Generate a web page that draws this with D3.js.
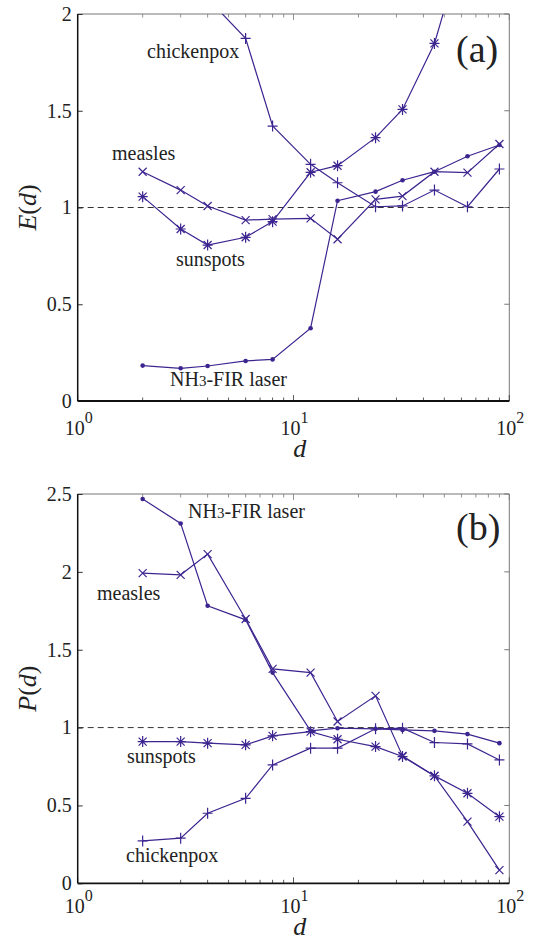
<!DOCTYPE html>
<html>
<head>
<meta charset="utf-8">
<script src="https://cdn.jsdelivr.net/npm/d3@7"></script>
<style>
  body { margin: 0; background: #fff; }
  svg text { font-family: "Liberation Serif", "Times New Roman", Times, "DejaVu Serif", "Noto Serif", serif; fill: #222; }
</style>
</head>
<body>
<div id="chart"></div>
<script>
// embedding dimension d, shared by every series
const dValues = [2, 3, 4, 6, 8, 12, 16, 24, 32, 45, 64, 90];

// panel (a): E(d)
const eNH3 = [0.183, 0.169, 0.181, 0.207, 0.215, 0.376, 1.035, 1.082, 1.141, 1.185, 1.265, 1.323];
const eMeasles = [1.185, 1.090, 1.008, 0.935, 0.940, 0.944, 0.836, 1.042, 1.059, 1.185, 1.180, 1.328];
const eSunspots = [1.056, 0.889, 0.806, 0.846, 0.927, 1.182, 1.216, 1.361, 1.507, 1.848, 2.43, 3.0];
const eChickenpox = [2.6, 2.3, 2.08, 1.874, 1.421, 1.223, 1.128, 1.004, 1.008, 1.090, 1.004, 1.199];

// panel (b): P(d)
const pNH3 = [2.468, 2.311, 1.782, 1.692, 1.353, 0.979, 0.996, 0.992, 0.985, 0.979, 0.958, 0.900];
const pMeasles = [1.992, 1.981, 2.114, 1.697, 1.377, 1.353, 1.039, 1.204, 0.818, 0.690, 0.396, 0.085];
const pSunspots = [0.910, 0.910, 0.900, 0.889, 0.947, 0.974, 0.925, 0.878, 0.814, 0.690, 0.578, 0.428];
const pChickenpox = [0.272, 0.290, 0.450, 0.546, 0.760, 0.868, 0.868, 0.992, 0.996, 0.904, 0.895, 0.792];

const eTicks = [0, 0.5, 1, 1.5, 2];
const pTicks = [0, 0.5, 1, 1.5, 2, 2.5];
const tickText = ["0", "0.5", "1", "1.5", "2", "2.5"];

const W = 536, H = 941;
const left = 77.7, right = 509.3;
const color = "#3d2590";
const serif = '"Liberation Serif", "Times New Roman", Times, "DejaVu Serif", "Noto Serif", serif';

const markers = {
  plus: "M-5,0H5M0,-5.5V5.5",
  cross: "M-4,-4L4,4M-4,4L4,-4",
  star: "M-5,0H5M0,-5.5V5.5M-4,-4L4,4M-4,4L4,-4"
};

const svg = d3.select("#chart").append("svg")
  .attr("width", W)
  .attr("height", H)
  .attr("font-family", serif);

const x = d3.scaleLog().domain([1, 100]).range([left, right]);

function drawPanel(opt) {
  const y = d3.scaleLinear().domain([0, opt.yMax]).range([opt.bottom, opt.top]);
  const g = svg.append("g");
  const clipId = "clip-" + opt.tag;

  g.append("clipPath").attr("id", clipId)
    .append("rect")
    .attr("x", left).attr("y", opt.top)
    .attr("width", right - left).attr("height", opt.bottom - opt.top);

  // frame: top/right light, left/bottom dark
  g.append("line").attr("x1", left).attr("x2", right).attr("y1", opt.top).attr("y2", opt.top)
    .attr("stroke", "#777").attr("stroke-width", 1);
  g.append("line").attr("x1", right).attr("x2", right).attr("y1", opt.top).attr("y2", opt.bottom)
    .attr("stroke", "#777").attr("stroke-width", 1);

  // log ticks on top and bottom
  const xt = x.ticks();
  const major = d => Math.abs(Math.log10(d) - Math.round(Math.log10(d))) < 1e-9;
  g.append("g").selectAll("line").data(xt).join("line")
    .attr("x1", d => x(d)).attr("x2", d => x(d))
    .attr("y1", opt.bottom).attr("y2", d => opt.bottom - (major(d) ? 6 : 3.5))
    .attr("stroke", "#333").attr("stroke-width", 0.8);
  g.append("g").selectAll("line").data(xt).join("line")
    .attr("x1", d => x(d)).attr("x2", d => x(d))
    .attr("y1", opt.top).attr("y2", d => opt.top + (major(d) ? 6 : 3.5))
    .attr("stroke", "#777").attr("stroke-width", 0.8);

  // y axis with inward ticks
  const yAxis = d3.axisLeft(y).tickValues(opt.ticks)
    .tickSize(-5).tickPadding(6)
    .tickFormat((d, i) => tickText[i]);
  const ya = g.append("g").attr("transform", `translate(${left},0)`).call(yAxis)
    .attr("font-family", serif).attr("font-size", 20);
  ya.select(".domain").remove();
  ya.selectAll("line").attr("stroke", "#333");
  ya.selectAll("text").attr("fill", "#222");

  g.append("g").selectAll("line").data(opt.ticks).join("line")
    .attr("x1", right).attr("x2", right - 5)
    .attr("y1", d => y(d)).attr("y2", d => y(d))
    .attr("stroke", "#777");

  g.append("line").attr("x1", left).attr("x2", left).attr("y1", opt.top).attr("y2", opt.bottom)
    .attr("stroke", "#111").attr("stroke-width", 1.5);
  g.append("line").attr("x1", left).attr("x2", right).attr("y1", opt.bottom).attr("y2", opt.bottom)
    .attr("stroke", "#111").attr("stroke-width", 1.8);

  // x tick labels 10^k
  const xl = g.append("g").selectAll("text").data([1, 10, 100]).join("text")
    .attr("x", d => x(d) - 13)
    .attr("y", opt.bottom + opt.labelGap)
    .attr("font-size", 20);
  xl.append("tspan").text("10");
  xl.append("tspan").attr("dy", -12).attr("font-size", 16)
    .text(d => Math.round(Math.log10(d)));

  // x label
  g.append("text")
    .attr("x", x(Math.pow(10, 1.02)) + 2).attr("y", opt.bottom + opt.labelGap + 22)
    .attr("text-anchor", "middle")
    .attr("font-size", 26).attr("font-style", "italic")
    .text("d");

  // y label
  const yl = g.append("text")
    .attr("transform", `translate(36,${(opt.top + opt.bottom) / 2}) rotate(-90)`)
    .attr("text-anchor", "middle")
    .attr("font-size", 26);
  yl.append("tspan").attr("font-style", "italic").text(opt.yName);
  yl.append("tspan").text("(");
  yl.append("tspan").attr("font-style", "italic").text("d");
  yl.append("tspan").text(")");

  // reference line at 1
  g.append("line")
    .attr("x1", left).attr("x2", right).attr("y1", y(1)).attr("y2", y(1))
    .attr("stroke", "#333").attr("stroke-width", 1).attr("stroke-dasharray", "6,4");

  // series
  const plot = g.append("g").attr("clip-path", `url(#${clipId})`);
  const line = d3.line().x(d => x(d.d)).y(d => y(d.v));
  opt.series.forEach(s => {
    const pts = dValues.map((d, i) => ({ d: d, v: s.values[i] }));
    plot.append("path").datum(pts)
      .attr("d", line)
      .attr("fill", "none").attr("stroke", color).attr("stroke-width", 1.2);
    if (s.marker === "dot") {
      plot.append("g").selectAll("circle").data(pts).join("circle")
        .attr("cx", d => x(d.d)).attr("cy", d => y(d.v)).attr("r", 2.3)
        .attr("fill", color);
    } else {
      plot.append("g").selectAll("path").data(pts).join("path")
        .attr("transform", d => `translate(${x(d.d)},${y(d.v)})`)
        .attr("d", markers[s.marker])
        .attr("fill", "none").attr("stroke", color).attr("stroke-width", 1.2);
    }
  });

  // panel letter
  g.append("text").attr("x", 456).attr("y", opt.top + opt.letterDy)
    .attr("font-size", 38).text(opt.letter);

  // series annotations
  opt.notes.forEach(n => {
    const t = g.append("text").attr("x", n.x).attr("y", n.y).attr("font-size", 20);
    if (n.text === "NH3-FIR laser") {
      t.append("tspan").text("NH");
      t.append("tspan").attr("font-size", 15).text("3");
      t.append("tspan").text("-FIR laser");
    } else {
      t.text(n.text);
    }
  });
}

drawPanel({
  tag: "a", top: 14, bottom: 401, yMax: 2, ticks: eTicks, yName: "E",
  labelGap: 34, letter: "(a)", letterDy: 48,
  series: [
    { values: eChickenpox, marker: "plus" },
    { values: eSunspots, marker: "star" },
    { values: eMeasles, marker: "cross" },
    { values: eNH3, marker: "dot" }
  ],
  notes: [
    { text: "chickenpox", x: 147, y: 58 },
    { text: "measles", x: 112, y: 160 },
    { text: "sunspots", x: 176, y: 266 },
    { text: "NH3-FIR laser", x: 170, y: 386 }
  ]
});

drawPanel({
  tag: "b", top: 494, bottom: 883.3, yMax: 2.5, ticks: pTicks, yName: "P",
  labelGap: 30, letter: "(b)", letterDy: 46,
  series: [
    { values: pChickenpox, marker: "plus" },
    { values: pSunspots, marker: "star" },
    { values: pMeasles, marker: "cross" },
    { values: pNH3, marker: "dot" }
  ],
  notes: [
    { text: "NH3-FIR laser", x: 188, y: 518 },
    { text: "measles", x: 97, y: 600 },
    { text: "sunspots", x: 127, y: 763 },
    { text: "chickenpox", x: 126, y: 862 }
  ]
});
</script>
</body>
</html>
